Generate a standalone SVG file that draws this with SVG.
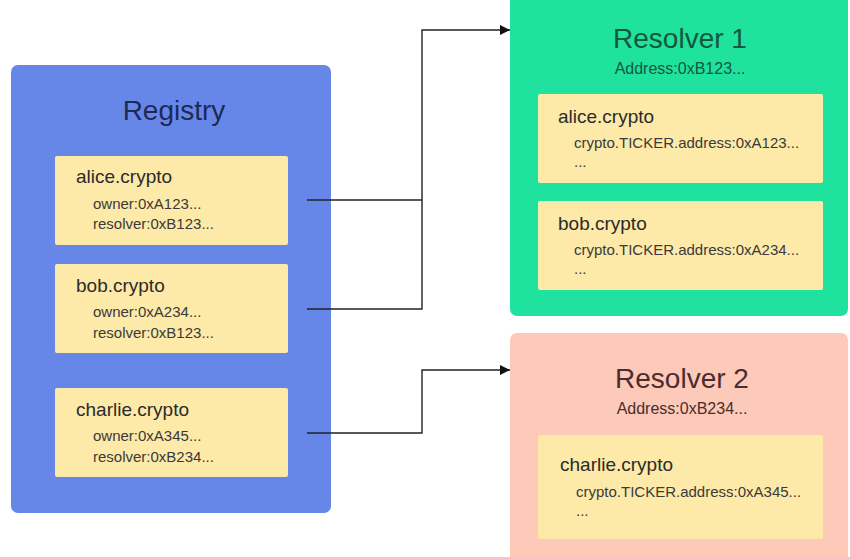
<svg xmlns="http://www.w3.org/2000/svg" width="850" height="557" viewBox="0 0 850 557">
<style>
text{font-family:"Liberation Sans","Noto Sans",Arial,sans-serif;}
.title{font-size:28px;text-anchor:middle;}
.addr{font-size:16px;text-anchor:middle;}
.name{font-size:19px;fill:#2b2b2b;}
.sub{font-size:15px;fill:#3a3a3a;}
.entry{fill:#fde9a8;}
.conn{fill:none;stroke:#222;stroke-width:1.4;}
</style>
<defs>
<marker id="arr" viewBox="0 0 10 10" refX="10" refY="5" markerWidth="10" markerHeight="10" markerUnits="userSpaceOnUse" orient="auto">
<path d="M0,0 L10,5 L0,10 z" fill="#111"/>
</marker>
</defs>
<rect width="850" height="557" fill="#ffffff"/>

<g id="registry">
<rect x="11" y="65" width="320" height="448" rx="7" fill="#6787e8"/>
<text class="title" x="174" y="120" fill="#1c2a55">Registry</text>
<g id="reg-alice">
<rect class="entry" x="55" y="156" width="233" height="89" rx="2"/>
<text class="name" x="76" y="183">alice.crypto</text>
<text class="sub" x="93" y="209">owner:0xA123...</text>
<text class="sub" x="93" y="229">resolver:0xB123...</text>
</g>
<g id="reg-bob">
<rect class="entry" x="55" y="264" width="233" height="89" rx="2"/>
<text class="name" x="76" y="292">bob.crypto</text>
<text class="sub" x="93" y="317">owner:0xA234...</text>
<text class="sub" x="93" y="338">resolver:0xB123...</text>
</g>
<g id="reg-charlie">
<rect class="entry" x="55" y="388" width="233" height="89" rx="2"/>
<text class="name" x="76" y="416">charlie.crypto</text>
<text class="sub" x="93" y="441">owner:0xA345...</text>
<text class="sub" x="93" y="462">resolver:0xB234...</text>
</g>
</g>

<g id="resolver1">
<rect x="510" y="-8" width="338" height="324" rx="7" fill="#1fe29f"/>
<text class="title" x="680" y="48" fill="#14573c">Resolver 1</text>
<text class="addr" x="680" y="74" fill="#14573c">Address:0xB123...</text>
<g id="r1-alice">
<rect class="entry" x="538" y="94" width="285" height="89" rx="2"/>
<text class="name" x="558" y="123">alice.crypto</text>
<text class="sub" x="574" y="148">crypto.TICKER.address:0xA123...</text>
<text class="sub" x="574" y="167">...</text>
</g>
<g id="r1-bob">
<rect class="entry" x="538" y="201" width="285" height="89" rx="2"/>
<text class="name" x="558" y="230">bob.crypto</text>
<text class="sub" x="574" y="255">crypto.TICKER.address:0xA234...</text>
<text class="sub" x="574" y="274">...</text>
</g>
</g>

<g id="resolver2">
<rect x="510" y="333" width="338" height="240" rx="7" fill="#fdc9b8"/>
<text class="title" x="682" y="388" fill="#4a2d2d">Resolver 2</text>
<text class="addr" x="682" y="414" fill="#4a2d2d">Address:0xB234...</text>
<g id="r2-charlie">
<rect class="entry" x="538" y="435" width="285" height="104" rx="2"/>
<text class="name" x="560" y="471">charlie.crypto</text>
<text class="sub" x="576" y="497">crypto.TICKER.address:0xA345...</text>
<text class="sub" x="576" y="516">...</text>
</g>
</g>

<g id="connectors">
<path class="conn" d="M307,200 H422"/>
<path class="conn" d="M307,309 H422 V30 H510" marker-end="url(#arr)"/>
<path class="conn" d="M307,433 H422 V370 H510" marker-end="url(#arr)"/>
</g>
</svg>
